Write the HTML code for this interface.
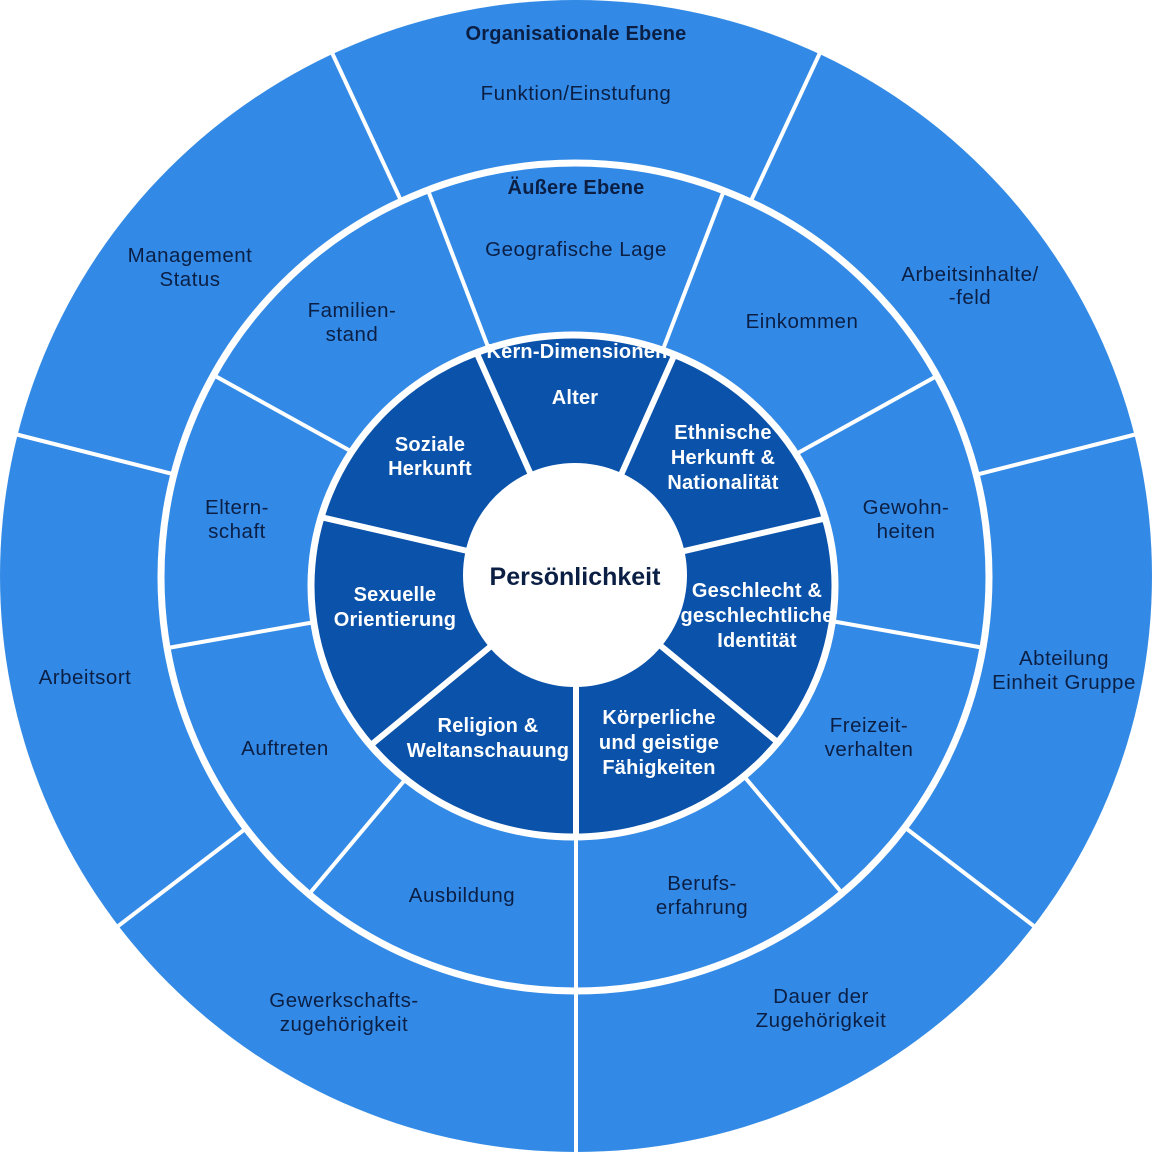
<!DOCTYPE html>
<html><head><meta charset="utf-8"><style>
html,body{margin:0;padding:0;background:#fff;}
svg{display:block;}
text{font-family:"Liberation Sans",sans-serif;text-anchor:middle;}
.l{fill:#0b1f45;font-size:20.5px;letter-spacing:0.5px;}
.h{fill:#0b1f45;font-size:20px;font-weight:bold;letter-spacing:0.2px;}
.d{fill:#fff;font-size:20px;font-weight:bold;letter-spacing:0.2px;}
</style></head><body>
<svg width="1152" height="1152" viewBox="0 0 1152 1152" xmlns="http://www.w3.org/2000/svg">
<defs>
<clipPath id="cm"><circle cx="575" cy="577" r="411"/></clipPath>
<clipPath id="cd"><ellipse cx="573" cy="586" rx="259" ry="248"/></clipPath>
</defs>
<circle cx="576" cy="576" r="576" fill="#338ae6"/>
<g stroke="#fff" stroke-width="4">
<line x1="576" y1="-10" x2="576" y2="576" transform="rotate(-25 576 576)"/>
<line x1="576" y1="-10" x2="576" y2="576" transform="rotate(25 576 576)"/>
<line x1="576" y1="-10" x2="576" y2="576" transform="rotate(75.8 576 576)"/>
<line x1="576" y1="-10" x2="576" y2="576" transform="rotate(127.4 576 576)"/>
<line x1="576" y1="-10" x2="576" y2="576" transform="rotate(180 576 576)"/>
<line x1="576" y1="-10" x2="576" y2="576" transform="rotate(-127.4 576 576)"/>
<line x1="576" y1="-10" x2="576" y2="576" transform="rotate(-75.8 576 576)"/>
</g>
<circle cx="575" cy="577" r="414" fill="#338ae6" stroke="#fff" stroke-width="7"/>
<g stroke="#fff" stroke-width="4" clip-path="url(#cm)">
<line x1="576" y1="100" x2="576" y2="576" transform="rotate(-21 576 576)"/>
<line x1="576" y1="100" x2="576" y2="576" transform="rotate(21 576 576)"/>
<line x1="576" y1="100" x2="576" y2="576" transform="rotate(61 576 576)"/>
<line x1="576" y1="100" x2="576" y2="576" transform="rotate(100 576 576)"/>
<line x1="576" y1="100" x2="576" y2="576" transform="rotate(140 576 576)"/>
<line x1="576" y1="100" x2="576" y2="576" transform="rotate(180 576 576)"/>
<line x1="576" y1="100" x2="576" y2="576" transform="rotate(-140 576 576)"/>
<line x1="576" y1="100" x2="576" y2="576" transform="rotate(-100 576 576)"/>
<line x1="576" y1="100" x2="576" y2="576" transform="rotate(-61 576 576)"/>
</g>
<ellipse cx="573" cy="586" rx="262" ry="251" fill="#0a52aa" stroke="#fff" stroke-width="7"/>
<g stroke="#fff" stroke-width="6" clip-path="url(#cd)">
<line x1="576" y1="280" x2="576" y2="576" transform="rotate(-24 576 576)"/>
<line x1="576" y1="280" x2="576" y2="576" transform="rotate(24 576 576)"/>
<line x1="576" y1="280" x2="576" y2="576" transform="rotate(77 576 576)"/>
<line x1="576" y1="280" x2="576" y2="576" transform="rotate(129.5 576 576)"/>
<line x1="576" y1="280" x2="576" y2="576" transform="rotate(180 576 576)"/>
<line x1="576" y1="280" x2="576" y2="576" transform="rotate(-129.5 576 576)"/>
<line x1="576" y1="280" x2="576" y2="576" transform="rotate(-77 576 576)"/>
</g>
<circle cx="575" cy="575" r="112" fill="#fff"/>

<text class="h" x="576" y="40">Organisationale Ebene</text>
<text class="l" x="576" y="100">Funktion/Einstufung</text>
<text class="l" x="190" y="262">Management</text><text class="l" x="190" y="286">Status</text>
<text class="l" x="970" y="281">Arbeitsinhalte/</text><text class="l" x="970" y="304">-feld</text>
<text class="l" x="85" y="684">Arbeitsort</text>
<text class="l" x="1064" y="665">Abteilung</text><text class="l" x="1064" y="689">Einheit Gruppe</text>
<text class="l" x="344" y="1007">Gewerkschafts-</text><text class="l" x="344" y="1031">zugehörigkeit</text>
<text class="l" x="821" y="1003">Dauer der</text><text class="l" x="821" y="1027">Zugehörigkeit</text>

<text class="h" x="576" y="194">Äußere Ebene</text>
<text class="l" x="576" y="256">Geografische Lage</text>
<text class="l" x="352" y="317">Familien-</text><text class="l" x="352" y="341">stand</text>
<text class="l" x="802" y="328">Einkommen</text>
<text class="l" x="237" y="514">Eltern-</text><text class="l" x="237" y="538">schaft</text>
<text class="l" x="906" y="514">Gewohn-</text><text class="l" x="906" y="538">heiten</text>
<text class="l" x="285" y="755">Auftreten</text>
<text class="l" x="869" y="732">Freizeit-</text><text class="l" x="869" y="756">verhalten</text>
<text class="l" x="462" y="902">Ausbildung</text>
<text class="l" x="702" y="890">Berufs-</text><text class="l" x="702" y="914">erfahrung</text>

<text class="d" x="577" y="358">Kern-Dimensionen</text>
<text class="d" x="575" y="404">Alter</text>
<text class="d" x="430" y="451">Soziale</text><text class="d" x="430" y="475">Herkunft</text>
<text class="d" x="723" y="439">Ethnische</text><text class="d" x="723" y="464">Herkunft &amp;</text><text class="d" x="723" y="489">Nationalität</text>
<text class="d" x="395" y="601">Sexuelle</text><text class="d" x="395" y="626">Orientierung</text>
<text class="d" x="757" y="597">Geschlecht &amp;</text><text class="d" x="757" y="622">geschlechtliche</text><text class="d" x="757" y="647">Identität</text>
<text class="d" x="488" y="732">Religion &amp;</text><text class="d" x="488" y="757">Weltanschauung</text>
<text class="d" x="659" y="724">Körperliche</text><text class="d" x="659" y="749">und geistige</text><text class="d" x="659" y="774">Fähigkeiten</text>
<text x="575" y="585" style="font-size:25px;font-weight:bold;fill:#0b1f45">Persönlichkeit</text>
</svg>
</body></html>
